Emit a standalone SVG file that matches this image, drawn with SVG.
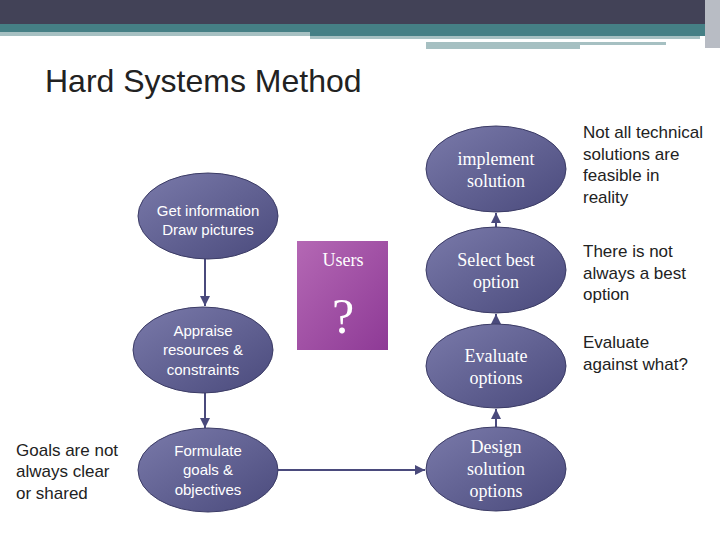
<svg xmlns="http://www.w3.org/2000/svg" width="720" height="540" viewBox="0 0 720 540">
<defs>
<linearGradient id="g" x1="0" y1="0" x2="1" y2="1"><stop offset="0" stop-color="#7a7aaa"/><stop offset="1" stop-color="#4a4a7c"/></linearGradient>
<linearGradient id="p" x1="0" y1="0" x2="1" y2="1"><stop offset="0" stop-color="#b468b4"/><stop offset="1" stop-color="#8e3a96"/></linearGradient>
<marker id="a" viewBox="0 0 10 10" refX="10" refY="5" markerWidth="5" markerHeight="5" orient="auto"><path d="M0,0L10,5L0,10z" fill="#4a4a7c"/></marker>
<style>
.n{fill:url(#g);stroke:#3c3c66;stroke-width:1}
.t{font-family:"Liberation Sans",Arial,sans-serif;font-size:15px;fill:#fff;text-anchor:middle}
.s{font-family:"Liberation Serif","Times New Roman",serif;font-size:18px;fill:#fff;text-anchor:middle}
.b{font-family:"Liberation Sans",Arial,sans-serif;font-size:17px;fill:#222}
.c{stroke:#4a4a7c;stroke-width:2;fill:none;marker-end:url(#a)}
</style>
</defs>
<rect width="720" height="540" fill="#fff"/>
<rect x="0" y="0" width="720" height="24" fill="#424257"/>
<rect x="0" y="24" width="720" height="8" fill="#457f85"/>
<rect x="0" y="32" width="310" height="4" fill="#a6c0c2"/>
<rect x="310" y="32" width="410" height="4" fill="#457f85"/>
<rect x="310" y="36" width="390" height="3" fill="#a6c0c2"/>
<rect x="426" y="42" width="240" height="3" fill="#a6c0c2"/>
<rect x="426" y="45" width="154" height="4" fill="#a6c0c2"/>
<rect x="705" y="0" width="15" height="48" fill="#b8bcc4"/>
<text x="45" y="92" font-family="Liberation Sans,Arial,sans-serif" font-size="32" fill="#222">Hard Systems Method</text>
<g id="connectors">
<line class="c" x1="205" y1="258" x2="205" y2="306"/>
<line class="c" x1="205" y1="393" x2="205" y2="428"/>
<line class="c" x1="277" y1="470" x2="425" y2="470"/>
<line class="c" x1="496" y1="427" x2="496" y2="409"/>
<line class="c" x1="496" y1="324" x2="496" y2="314"/>
<line class="c" x1="496" y1="228" x2="496" y2="213"/>
</g>
<g id="get"><ellipse class="n" cx="208" cy="216" rx="70" ry="43"/><text class="t" x="208" y="216">Get information</text><text class="t" x="208" y="235">Draw pictures</text></g>
<g id="appraise"><ellipse class="n" cx="203" cy="350" rx="70" ry="43"/><text class="t" x="203" y="336">Appraise</text><text class="t" x="203" y="355">resources &amp;</text><text class="t" x="203" y="375">constraints</text></g>
<g id="formulate"><ellipse class="n" cx="208" cy="470" rx="70" ry="42"/><text class="t" x="208" y="456">Formulate</text><text class="t" x="208" y="475">goals &amp;</text><text class="t" x="208" y="495">objectives</text></g>
<g id="users"><rect x="297" y="241" width="91" height="109" fill="url(#p)"/><text class="s" x="343" y="266">Users</text><text x="343" y="333" font-family="Liberation Serif,serif" font-size="50" fill="#fff" text-anchor="middle">?</text></g>
<g id="implement"><ellipse class="n" cx="496" cy="169" rx="70" ry="43"/><text class="s" x="496" y="165">implement</text><text class="s" x="496" y="187">solution</text></g>
<g id="select"><ellipse class="n" cx="496" cy="270" rx="70" ry="43"/><text class="s" x="496" y="266">Select best</text><text class="s" x="496" y="288">option</text></g>
<g id="evaluate"><ellipse class="n" cx="496" cy="366" rx="70" ry="42"/><text class="s" x="496" y="362">Evaluate</text><text class="s" x="496" y="384">options</text></g>
<g id="design"><ellipse class="n" cx="496" cy="469" rx="70" ry="42"/><text class="s" x="496" y="453">Design</text><text class="s" x="496" y="475">solution</text><text class="s" x="496" y="497">options</text></g>
<g id="notes">
<text class="b" x="583" y="138">Not all technical</text><text class="b" x="583" y="160">solutions are</text><text class="b" x="583" y="181">feasible in</text><text class="b" x="583" y="203">reality</text>
<text class="b" x="583" y="257">There is not</text><text class="b" x="583" y="279">always a best</text><text class="b" x="583" y="300">option</text>
<text class="b" x="583" y="348">Evaluate</text><text class="b" x="583" y="370">against what?</text>
<text class="b" x="16" y="456">Goals are not</text><text class="b" x="16" y="477">always clear</text><text class="b" x="16" y="499">or shared</text>
</g>
</svg>
